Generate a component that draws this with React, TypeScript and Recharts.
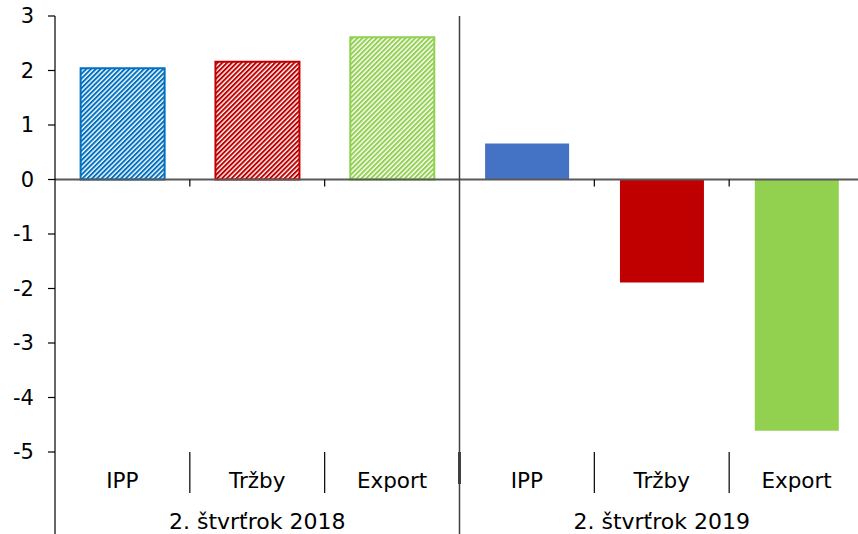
import { BarChart, Bar, Cell, XAxis, YAxis, ReferenceLine } from "recharts";

const categories = ["IPP", "Tržby", "Export", "IPP", "Tržby", "Export"];
const groups = ["2. štvrťrok 2018", "2. štvrťrok 2019"];
const groupOf = [0, 0, 0, 1, 1, 1];
const values = [2.04, 2.16, 2.61, 0.66, -1.89, -4.61];
const yTicks = [-5, -4, -3, -2, -1, 0, 1, 2, 3];

const baseColors = ["#0070C0", "#C00000", "#92D050", "#4472C4", "#C00000", "#92D050"];
const hatched = [true, true, true, false, false, false];

const data = categories.map((c, i) => ({ key: `${c}-${groupOf[i]}`, value: values[i] }));

const CHART_W = 864;
const CHART_H = 534;
const MARGIN = { top: 16, right: 0, left: 0, bottom: 0 };
const Y_W = 55;
const X_H = 82;
const BAND = (CHART_W - MARGIN.left - MARGIN.right - Y_W) / data.length;
const FONT = "'DejaVu Sans', Verdana, sans-serif";

function hatchId(i: number) {
  return `hatch-${i}`;
}

function CategoryTick(props: any) {
  const { x, y, index } = props;
  const left = x - BAND / 2;
  const bottom = y + X_H;
  return (
    <g>
      {index === 0 && <line x1={left} x2={left} y1={y} y2={bottom} stroke="#000" strokeWidth={1.2} />}
      {index === 3 && (
        <>
          <line x1={left} x2={left} y1={MARGIN.top} y2={bottom} stroke="#404040" strokeWidth={1.5} />
          <line x1={left} x2={left} y1={y} y2={y + 32} stroke="#404040" strokeWidth={3} />
        </>
      )}
      {index !== 0 && index !== 3 && (
        <line x1={left} x2={left} y1={y} y2={y + 41} stroke="#000" strokeWidth={1.2} />
      )}
      <text x={x} y={y + 36} textAnchor="middle" fontSize={21.5} fontFamily={FONT} fill="#000">
        {categories[index]}
      </text>
      {(index === 1 || index === 4) && (
        <text x={x} y={y + 77} textAnchor="middle" fontSize={22} fontFamily={FONT} fill="#000">
          {groups[groupOf[index]]}
        </text>
      )}
    </g>
  );
}

function ZeroLine(props: any) {
  const { x1, y1, x2 } = props;
  return (
    <g>
      <line x1={x1} x2={x2} y1={y1} y2={y1} stroke="#595959" strokeWidth={2} />
      {data.map((_, i) =>
        i === 0 || i === 3 ? null : (
          <line key={i} x1={x1 + i * BAND} x2={x1 + i * BAND} y1={y1} y2={y1 + 7} stroke="#000" strokeWidth={1.2} />
        )
      )}
    </g>
  );
}

export default function App() {
  return (
    <div style={{ position: "fixed", left: 0, top: 0, width: 858, height: 534, overflow: "hidden", background: "#fff" }}>
      <svg width={0} height={0} style={{ position: "absolute" }}>
        <defs>
          {baseColors.map((c, i) => (
            <pattern
              key={i}
              id={hatchId(i)}
              patternUnits="userSpaceOnUse"
              width={3.4}
              height={3.4}
              patternTransform="rotate(45)"
            >
              <rect width={3.4} height={3.4} fill="#fff" />
              <rect width={2} height={3.4} fill={c} />
            </pattern>
          ))}
        </defs>
      </svg>
      <BarChart width={CHART_W} height={CHART_H} data={data} margin={MARGIN} barCategoryGap="19%">
        <YAxis
          width={Y_W}
          domain={[-5, 3]}
          ticks={yTicks}
          interval={0}
          tickSize={7}
          tickMargin={14}
          axisLine={{ stroke: "#000", strokeWidth: 1.2 }}
          tickLine={{ stroke: "#000", strokeWidth: 1.2 }}
          tick={{ fill: "#000", fontSize: 21, fontFamily: FONT }}
        />
        <XAxis
          dataKey="key"
          height={X_H}
          interval={0}
          axisLine={false}
          tickLine={false}
          tickSize={0}
          tickMargin={0}
          tick={<CategoryTick />}
        />
        <Bar dataKey="value" isAnimationActive={false}>
          {data.map((_, i) => (
            <Cell
              key={i}
              fill={hatched[i] ? `url(#${hatchId(i)})` : baseColors[i]}
              stroke={hatched[i] ? baseColors[i] : "none"}
              strokeWidth={hatched[i] ? 2 : 0}
            />
          ))}
        </Bar>
        <ReferenceLine y={0} shape={<ZeroLine />} ifOverflow="visible" />
      </BarChart>
    </div>
  );
}
